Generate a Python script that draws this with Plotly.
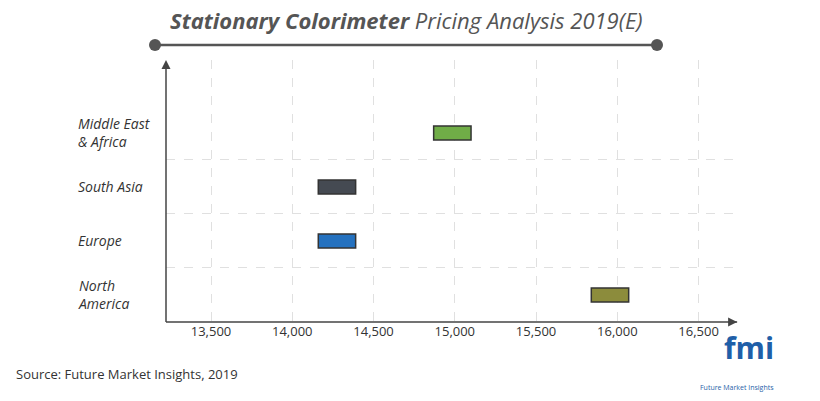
import plotly.graph_objects as go

regions = ["North<br>America", "Europe", "South Asia", "Middle East<br>& Africa"]
price_low = [15840, 14160, 14160, 14870]
price_high = [16070, 14390, 14390, 15100]
colors = ["#8c8c3c", "#2471bf", "#454a52", "#70ad47"]
tick_vals = [13500, 14000, 14500, 15000, 15500, 16000, 16500]
tick_text = ["13,500", "14,000", "14,500", "15,000", "15,500", "16,000", "16,500"]

# page body has an 8px margin, so the plot box is placed relative to that
OFF = 8
PL, PR, PT, PB = 166, 740, 60, 322
W = PR - PL
H = PB - PT


def px(x):
    return (x - PL) / W


def py(y):
    return (PB - y) / H


ypos = list(range(len(regions)))
fig = go.Figure()
fig.add_trace(go.Bar(
    y=ypos, x=[h - l for l, h in zip(price_low, price_high)], base=price_low,
    orientation="h", width=0.26, marker=dict(color=colors, line=dict(color="#333", width=1.5)),
    hoverinfo="skip"))

fig.update_layout(
    width=820, height=401, plot_bgcolor="white", paper_bgcolor="white",
    margin=dict(l=PL - OFF, r=820 - PR + OFF, t=PT - OFF, b=401 - PB + OFF), showlegend=False,
    font=dict(family="Open Sans", color="#333"),
    xaxis=dict(range=[13223, 16755], tickvals=tick_vals, ticktext=tick_text,
               showgrid=True, gridcolor="#e0e0e0", griddash="dash", zeroline=False,
               tickfont=dict(size=13, color="#333"), ticks="", showline=False),
    yaxis=dict(range=[-0.5, 4.35], tickvals=[0.5, 1.5, 2.5], showticklabels=False,
               showgrid=True, gridcolor="#e0e0e0", griddash="dash", zeroline=False, ticks=""),
)
fig.add_shape(type="line", xref="paper", yref="paper", x0=0, x1=0.995, y0=0, y1=0,
              line=dict(color="#444", width=1.5))
fig.add_shape(type="line", xref="paper", yref="paper", x0=0, x1=0, y0=0, y1=0.99,
              line=dict(color="#444", width=1.5))
fig.add_annotation(x=0, y=1.0, xref="paper", yref="paper", ax=0, ay=10, showarrow=True,
                   arrowhead=2, arrowsize=1.2, arrowwidth=1.5, arrowcolor="#444", text="")
fig.add_annotation(x=0.995, y=0, xref="paper", yref="paper", ax=-10, ay=0, showarrow=True,
                   arrowhead=2, arrowsize=1.2, arrowwidth=1.5, arrowcolor="#444", text="")

for y, r in zip(ypos, regions):
    fig.add_annotation(x=px(76), y=y, xref="paper", yref="y", text=f"<i>{r}</i>", showarrow=False,
                       xanchor="left", align="left", font=dict(size=14, color="#333"))

# title with decorative line
fig.add_annotation(x=px(406), y=py(20), xref="paper", yref="paper", yanchor="middle",
                   text="<b><i>Stationary Colorimeter</i></b><i> Pricing Analysis 2019(E)</i>",
                   showarrow=False, font=dict(size=22, color="#555"), xanchor="center")
fig.add_shape(type="line", xref="paper", yref="paper", x0=px(155), x1=px(657),
              y0=py(45), y1=py(45), line=dict(color="#555", width=2.5))
for cx in (155, 657):
    fig.add_shape(type="circle", xref="paper", yref="paper",
                  x0=px(cx - 6), x1=px(cx + 6), y0=py(51), y1=py(39),
                  fillcolor="#555", line=dict(width=0))

fig.add_annotation(x=px(14), y=py(385), xref="paper", yref="paper",
                   text="Source: Future Market Insights, 2019", showarrow=False, xanchor="left",
                   font=dict(size=13, color="#333"))
fig.add_annotation(x=px(776), y=py(370), xref="paper", yref="paper",
                   text="<b>fmi</b>", showarrow=False, font=dict(size=30, color="#1f5fa8"))
fig.add_annotation(x=px(776), y=py(394), xref="paper", yref="paper",
                   text="Future Market Insights", showarrow=False, font=dict(size=7, color="#1f5fa8"))

fig.write_html("out.html")
